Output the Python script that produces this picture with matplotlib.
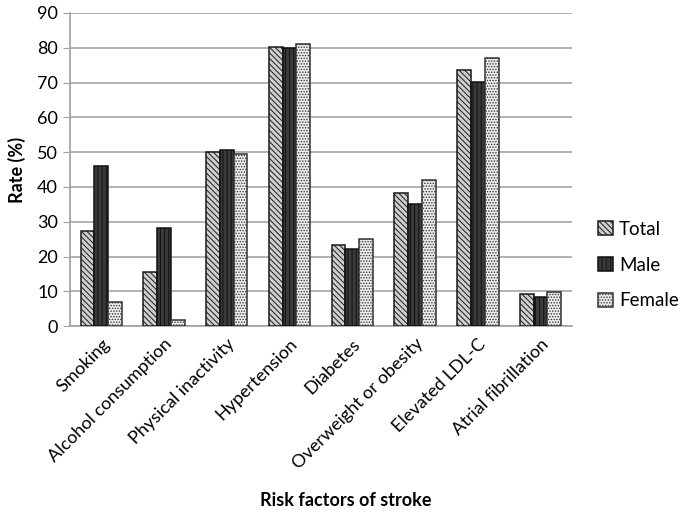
import matplotlib
matplotlib.use("Agg")
import matplotlib.pyplot as plt
import numpy as np

plt.rcParams['font.family'] = ['Lato', 'DejaVu Sans']
plt.rcParams['hatch.linewidth'] = 0.7

categories = ["Smoking", "Alcohol consumption", "Physical inactivity", "Hypertension",
              "Diabetes", "Overweight or obesity", "Elevated LDL-C", "Atrial fibrillation"]
total = [27.4, 15.6, 49.9, 80.3, 23.3, 38.3, 73.6, 9.1]
male = [46.1, 28.1, 50.5, 79.8, 22.1, 35.1, 70.2, 8.4]
female = [6.8, 1.8, 49.5, 81.0, 24.9, 42.0, 77.1, 9.9]
series_names = ["Total", "Male", "Female"]
yticks = list(range(0, 91, 10))

fig = plt.figure(figsize=(6.85, 5.16), dpi=100)
ax = fig.add_axes([0.102, 0.368, 0.733, 0.607])

x = np.arange(len(categories))
w = 0.22
styles = [
    dict(facecolor="#cfcfcf", hatch="\\\\\\\\\\\\", edgecolor="#1a1a1a"),
    dict(facecolor="#3a3a3a", hatch="||||", edgecolor="#111111"),
    dict(facecolor="#eeeeee", hatch="......", edgecolor="#333333"),
]
for i, (vals, name, st) in enumerate(zip([total, male, female], series_names, styles)):
    ax.bar(x + (i - 1) * w, vals, w, label=name, linewidth=1.1, zorder=3, **st)

ax.set_ylim(0, 90)
ax.set_yticks(yticks)
ax.set_xlim(-0.5, len(categories) - 0.5)
ax.set_xticks(x)
ax.set_xticklabels(categories, rotation=45, ha="right", rotation_mode="anchor", fontsize=13)
ax.tick_params(axis='x', length=0, pad=7)
ax.tick_params(axis='y', labelsize=13, length=5, color="#a0a0a0")
ax.yaxis.grid(True, color="#a6a6a6", linewidth=1.2, zorder=0)
ax.set_axisbelow(True)
for s in ["top", "right"]:
    ax.spines[s].set_visible(False)
for s in ["left", "bottom"]:
    ax.spines[s].set_color("#a0a0a0")
    ax.spines[s].set_linewidth(1.2)

ax.set_ylabel("Rate (%)", fontsize=13, fontweight="bold", labelpad=8)
fig.text(0.505, 0.02, "Risk factors of stroke", fontsize=13, fontweight="bold", ha="center")

leg = ax.legend(loc="center left", bbox_to_anchor=(1.026, 0.195), frameon=False, fontsize=13.5,
                handlelength=0.8, handleheight=0.8, handletextpad=0.3, labelspacing=1.0,
                borderaxespad=0.3)

fig.savefig("out.png", dpi=100)
